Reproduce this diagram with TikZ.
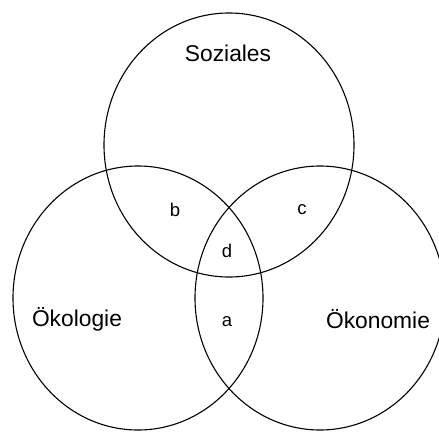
\documentclass[tikz,border=0pt]{standalone}
\usepackage{fontspec}
\setmainfont{Liberation Sans}
\usetikzlibrary{shapes.geometric}
\tikzset{
  setring/.style={draw=black, line width=1.1pt, ellipse, minimum width=250pt, minimum height=264pt, inner sep=0pt},
  biglabel/.style={font=\fontsize{22.8}{26}\selectfont, inner sep=0pt},
  zonelabel/.style={font=\fontsize{18.5}{21}\selectfont, inner sep=0pt}
}
\begin{document}
\begin{tikzpicture}[x=1pt, y=-1pt]
  \useasboundingbox (0,0) rectangle (439,432);
  \clip (0,0) rectangle (439,432);
  \fill[white] (0,0) rectangle (439,432);
  % the three overlapping sets
  \node[setring] (sozial) at (229,145) {};
  \node[setring] (oeko)   at (138,298) {};
  \node[setring] (oekon)  at (320,298) {};
  % set names
  \node[biglabel] (tSoz) at (228,53) {Soziales};
  \node[biglabel] (tOek) at (77,319) {Ökologie};
  \node[biglabel] (tEco) at (378,319) {Ökonomie};
  % overlap zones
  \node[zonelabel] (zb) at (175,210) {b};
  \node[zonelabel] (zc) at (302,210) {c};
  \node[zonelabel] (zd) at (227,251) {d};
  \node[zonelabel] (za) at (227,322) {a};
\end{tikzpicture}
\end{document}
